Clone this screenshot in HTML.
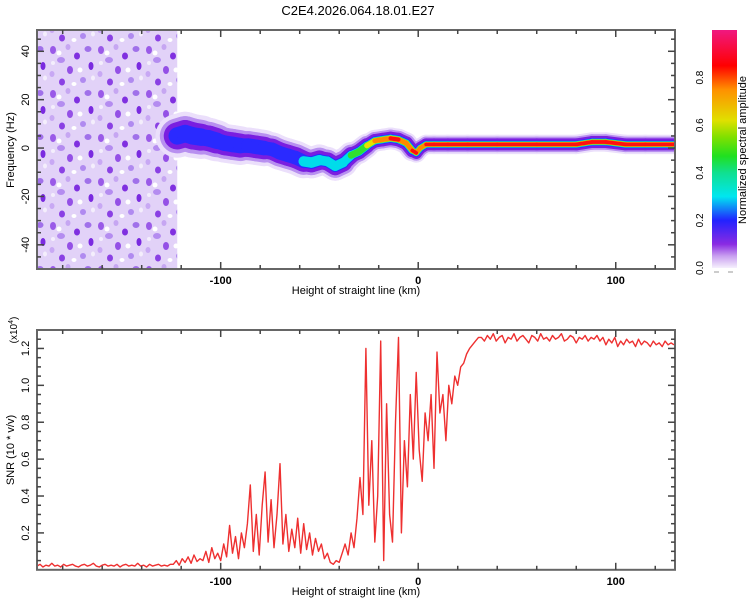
<!DOCTYPE html>
<html><head><meta charset="utf-8"><style>
html,body{margin:0;padding:0;background:#fff;}
svg{display:block;font-family:"Liberation Sans",sans-serif;}
</style></head><body>
<svg id="c" width="750" height="600" viewBox="0 0 750 600" xmlns="http://www.w3.org/2000/svg">
<defs>
<pattern id="noise" width="48" height="44" patternUnits="userSpaceOnUse">
<rect width="48" height="44" fill="#e2d2f8"/>
<ellipse cx="5" cy="6" rx="3" ry="4" fill="#9a5ae8"/>
<ellipse cx="20" cy="3" rx="2.5" ry="3" fill="#c6a6f2"/>
<ellipse cx="29" cy="12" rx="3" ry="3.5" fill="#8030e0"/>
<ellipse cx="13" cy="16" rx="4" ry="3" fill="#b48cf0"/>
<ellipse cx="4" cy="30" rx="2.5" ry="3" fill="#c8a8f4"/>
<ellipse cx="22" cy="26" rx="3" ry="4" fill="#9450e6"/>
<ellipse cx="40" cy="5" rx="3.5" ry="3" fill="#a070ea"/>
<ellipse cx="43" cy="22" rx="2.5" ry="4" fill="#7a2ae0"/>
<ellipse cx="35" cy="36" rx="3" ry="3" fill="#b08af0"/>
<ellipse cx="14" cy="38" rx="3" ry="3.5" fill="#8a40e4"/>
<ellipse cx="32" cy="26" rx="2.5" ry="2.5" fill="#fff"/>
<ellipse cx="11" cy="9" rx="2.5" ry="2.5" fill="#fff"/>
<ellipse cx="26" cy="40" rx="2.5" ry="2" fill="#fff"/>
<ellipse cx="45" cy="34" rx="2" ry="2.5" fill="#f4eefc"/>
<ellipse cx="5" cy="19" rx="2" ry="2" fill="#f4eefc"/>
</pattern>
<linearGradient id="cmap" x1="0" y1="1" x2="0" y2="0">
<stop offset="0" stop-color="#f6f0fd"/><stop offset="0.05" stop-color="#c9a0f0"/>
<stop offset="0.1" stop-color="#8a2be2"/><stop offset="0.2" stop-color="#2222ff"/>
<stop offset="0.3" stop-color="#00e6f0"/><stop offset="0.4" stop-color="#10e090"/>
<stop offset="0.47" stop-color="#20e020"/><stop offset="0.55" stop-color="#80e000"/>
<stop offset="0.62" stop-color="#e0e000"/><stop offset="0.75" stop-color="#ff9000"/>
<stop offset="0.85" stop-color="#ff0000"/><stop offset="1" stop-color="#f01880"/>
</linearGradient>
<clipPath id="topclip"><rect x="37" y="30" width="638" height="239"/></clipPath>
<clipPath id="botclip"><rect x="37" y="330" width="638" height="240"/></clipPath>
</defs>
<text x="358" y="15" text-anchor="middle" font-size="13">C2E4.2026.064.18.01.E27</text>
<g id="top"></g>
<g id="bot"></g>
<g id="cbar"></g>
</svg>
<script>
// ---- data ----
const ridgeKm = [-122,-118,-114,-110,-106,-102,-98,-94,-90,-86,-82,-78,-74,-70,-66,-62,-58,-54,-50,-46,-42,-38,-34,-30,-26,-22,-18,-14,-10,-6,-3,-1,1,4,8,15,25,40,60,80,88,95,105,115,130];
const ridgeHz = [5,6,5,4.5,4,3,2,1.5,1,1,0.5,0,-0.5,-2,-3,-4,-5.5,-6,-5,-5.5,-7.5,-6,-3,-1.5,1,3,3.5,4,3.5,2,-1,-2,0,1.5,1.5,1.5,1.5,1.5,1.5,1.5,2.5,2.5,1.5,1.5,1.5];
const ridgeAmp = [.3,.24,.22,.24,.22,.21,.23,.2,.22,.2,.22,.21,.22,.24,.22,.26,.3,.32,.34,.4,.38,.42,.5,.55,.6,.75,.78,.8,.8,.75,.8,.8,.78,.85,.85,.88,.85,.85,.85,.85,.9,.9,.85,.85,.85];
const ridgeSpread = [9,9,9,8.5,8.5,8,8,8,7.5,7.5,7.5,7,7,7,7,7,6.5,6.5,6,6,6,5.5,5,5,4.5,4.5,4.5,4.5,4.5,4.5,4,4,4,4,4,4,4,4,4,4,4,4,4,4,4];
const noiseKmRange = [-193,-122];
const snrStartKm = -193;
const snrStepKm = 1.5;
const snrVal = [.02,.03,.015,.025,.02,.035,.02,.025,.015,.03,.02,.025,.03,.02,.015,.025,.03,.02,.025,.035,.02,.015,.025,.03,.02,.025,.02,.03,.015,.025,.03,.02,.025,.02,.035,.02,.025,.015,.03,.02,.025,.03,.02,.025,.02,.03,
.03,.05,.025,.06,.04,.07,.035,.08,.045,.06,
.05,.1,.04,.12,.06,.09,.05,
.14,.07,.24,.09,.18,.06,.2,
.12,.25,.46,.1,
.3,.08,.35,.53,
.15,.38,.12,.3,.575,.14,
.3,.1,.22,.12,.28,.09,.25,.11,.2,.08,.17,.1,.14,
.06,.09,.04,.03,.05,.04,
.09,.14,.08,.2,.12,.28,
.5,.3,1.2,.35,.7,.15,.4,1.24,.05,.9,.3,.15,.8,1.26,.2,.7,.45,.95,.6,1.07,.65,.48,.85,.7,.95,.55,1.18,.85,.95,.7,1.0,.9,1.05,1.0,1.1,1.12,1.17,1.2,1.22,1.24,1.26,
1.26,1.24,1.27,1.25,1.28,1.24,1.26,1.27,1.23,1.26,1.25,1.28,1.24,1.26,1.27,1.25,1.23,1.27,1.26,1.24,1.28,1.25,1.26,1.24,1.27,1.25,1.26,1.28,1.24,1.25,1.27,1.26,1.23,1.26,1.25,1.27,1.24,1.26,1.25,1.27,1.24,1.26,1.22,1.25,1.23,1.26,1.21,1.24,1.22,1.25,1.23,1.24,1.21,1.25,1.22,1.24,1.23,1.21,1.24,1.22,1.23,1.21,1.24,1.22,1.23,1.22];
const xTicks = [-100,0,100];
const hzTicks = [-40,-20,0,20,40];
const snrTicks = [0.2,0.4,0.6,0.8,1.0,1.2];
const cbTicks = [0.0,0.2,0.4,0.6,0.8];

// ---- axes ----
const X0=37,X1=675,KM0=-193,KM1=130;
const xs = km => X0 + (km-KM0)*(X1-X0)/(KM1-KM0);
const T0=30,T1=269,HZ0=-50,HZ1=48.8;
const yHz = hz => T1 - (hz-HZ0)*(T1-T0)/(HZ1-HZ0);
const B0=330,B1=569.8,S0=0,S1=1.3;
const ySnr = v => B1 - (v-S0)*(B1-B0)/(S1-S0);
const NS='http://www.w3.org/2000/svg';
function mk(tag,attrs,parent){const e=document.createElementNS(NS,tag);for(const k in attrs)e.setAttribute(k,attrs[k]);parent.appendChild(e);return e;}
const topG=document.getElementById('top'), botG=document.getElementById('bot'), cbG=document.getElementById('cbar');

// spectrogram
const tg=mk('g',{'clip-path':'url(#topclip)'},topG);
const nz=mk('rect',{x:xs(noiseKmRange[0]),y:T0,width:xs(noiseKmRange[1])-xs(noiseKmRange[0]),height:T1-T0,fill:'url(#noise)'},tg);


const layers=[
 {t:0,c:'#ebdffb',f:1.0},
 {t:0.05,c:'#b890f0',f:0.8},
 {t:0.1,c:'#7a1ee0',f:0.62},
 {t:0.2,c:'#2a2aff',f:0.4},
 {t:0.3,c:'#00dcea',f:0.33},
 {t:0.45,c:'#30e030',f:0.28},
 {t:0.6,c:'#e8e000',f:0.25},
 {t:0.72,c:'#ff8800',f:0.22},
 {t:0.8,c:'#ff1010',f:0.19}];
const pxHz=(T1-T0)/(HZ1-HZ0);
layers.forEach(L=>{
 for(let i=0;i<ridgeKm.length-1;i++){
  const a=Math.min(ridgeAmp[i],ridgeAmp[i+1]);
  if(a<L.t) continue;
  const w=L.f*ridgeSpread[i]*2*pxHz;
  const s=mk('line',{x1:xs(ridgeKm[i]),y1:yHz(ridgeHz[i]),x2:xs(ridgeKm[i+1]),y2:yHz(ridgeHz[i+1]),stroke:L.c,'stroke-width':w,'stroke-linecap':'round'},tg);
  
  
 }
});
function frame(g,y0,y1){
 mk('rect',{x:X0,y:y0,width:X1-X0,height:y1-y0,fill:'none',stroke:'#666','stroke-width':2},g);
 for(let km=-180;km<=120;km+=20){
  const x=xs(km),big=km%100===0;
  mk('line',{x1:x,y1:y1,x2:x,y2:y1-(big?7:4),stroke:'#444','stroke-width':1.5},g);
  mk('line',{x1:x,y1:y0,x2:x,y2:y0+(big?7:4),stroke:'#444','stroke-width':1.5},g);
 }
 xTicks.forEach(v=>{const t=mk('text',{x:xs(v),y:y1+15,'text-anchor':'middle','font-size':11,'font-weight':'bold'},g);t.textContent=v;
  });
 const tt=mk('text',{x:356,y:y1+25,'text-anchor':'middle','font-size':11},g);tt.textContent='Height of straight line (km)';
 
}
frame(topG,T0,T1);
for(let hz=-45;hz<=45;hz+=5){const y=yHz(hz),big=hz%20===0;
 mk('line',{x1:X0,y1:y,x2:X0+(big?7:4),y2:y,stroke:'#444','stroke-width':1.5},topG);
 mk('line',{x1:X1,y1:y,x2:X1-(big?7:4),y2:y,stroke:'#444','stroke-width':1.5},topG);}
hzTicks.forEach(v=>{const y=yHz(v);const t=mk('text',{x:29,y:y,'text-anchor':'middle','font-size':11,transform:`rotate(-90 29 ${y})`},topG);t.textContent=v;
 });
const yt=mk('text',{x:14,y:150,'text-anchor':'middle','font-size':11,transform:'rotate(-90 14 150)'},topG);yt.textContent='Frequency (Hz)';


// SNR
const bg=mk('g',{'clip-path':'url(#botclip)'},botG);
let pts=snrVal.map((v,i)=>xs(snrStartKm+i*snrStepKm).toFixed(1)+','+ySnr(v).toFixed(1)).join(' ');
const ln=mk('polyline',{points:pts,fill:'none',stroke:'#ee3030','stroke-width':1.4,'stroke-linejoin':'round'},bg);


frame(botG,B0,B1);
for(let v=0.05;v<1.3;v+=0.05){const y=ySnr(v),big=Math.abs(v*5-Math.round(v*5))<1e-6;
 mk('line',{x1:X0,y1:y,x2:X0+(big?7:4),y2:y,stroke:'#444','stroke-width':1.5},botG);
 mk('line',{x1:X1,y1:y,x2:X1-(big?7:4),y2:y,stroke:'#444','stroke-width':1.5},botG);}
snrTicks.forEach(v=>{const y=ySnr(v);const t=mk('text',{x:29,y:y,'text-anchor':'middle','font-size':11,transform:`rotate(-90 29 ${y})`},botG);t.textContent=v.toFixed(1);
 });
const st=mk('text',{x:14,y:450,'text-anchor':'middle','font-size':11,transform:'rotate(-90 14 450)'},botG);st.textContent='SNR (10 * v/v)';

const sc=mk('text',{x:17,y:330,'text-anchor':'middle','font-size':10,transform:'rotate(-90 17 330)'},botG);
sc.appendChild(document.createTextNode('(x10'));
const sup=mk('tspan',{dy:-4,'font-size':7},sc);sup.textContent='4';
const cl=mk('tspan',{dy:4},sc);cl.textContent=')';


// colorbar
const CY0=30,CY1=268;
const cbr=mk('rect',{x:712,y:CY0,width:25,height:CY1-CY0,fill:'url(#cmap)'},cbG);

mk('line',{x1:714,y1:272,x2:719,y2:272,stroke:'#999'},cbG);
mk('line',{x1:728,y1:272,x2:733,y2:272,stroke:'#999'},cbG);
cbTicks.forEach(v=>{const y=CY1-v*(CY1-CY0);const t=mk('text',{x:703,y:y,'text-anchor':'middle','font-size':10,transform:`rotate(-90 703 ${y})`},cbG);t.textContent=v.toFixed(1);
 });
const ct=mk('text',{x:746,y:150,'text-anchor':'middle','font-size':11,transform:'rotate(-90 746 150)'},cbG);ct.textContent='Normalized spectral amplitude';

</script>
</body></html>
